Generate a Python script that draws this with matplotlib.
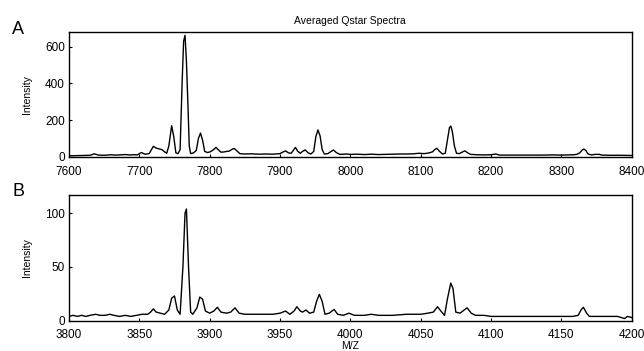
import matplotlib
matplotlib.use("Agg")
import matplotlib.pyplot as plt

plt.rcParams["font.family"] = ["Liberation Sans", "DejaVu Sans"]

# Spectrum A (high mass range), traced m/z / intensity pairs
mz_a = [7600, 7610, 7620, 7630, 7636, 7642, 7650, 7660, 7665, 7672, 7680, 7686,
        7692, 7697, 7703, 7708, 7714, 7720, 7724, 7728, 7732, 7736, 7739, 7742,
        7746, 7749, 7752, 7755, 7758, 7761, 7763, 7765, 7767, 7769, 7771, 7773,
        7777, 7781, 7784, 7787, 7790, 7793, 7797, 7801, 7805, 7809, 7812, 7816,
        7820, 7824, 7828, 7832, 7835, 7839, 7843, 7850, 7860, 7870, 7880, 7890,
        7900, 7905, 7908, 7912, 7916, 7919, 7922, 7925, 7929, 7932, 7936, 7940,
        7944, 7948, 7951, 7954, 7957, 7960, 7963, 7968, 7972, 7976, 7980, 7985,
        7995, 8000, 8010, 8020, 8030, 8040, 8050, 8060, 8070, 8080, 8090, 8097,
        8105, 8112, 8117, 8120, 8123, 8127, 8131, 8135, 8138, 8141, 8143, 8145,
        8148, 8151, 8155, 8160, 8163, 8167, 8171, 8180, 8190, 8200, 8207, 8212,
        8230, 8250, 8270, 8290, 8300, 8310, 8318, 8322, 8326, 8330, 8332, 8335,
        8338, 8343, 8348, 8354, 8358, 8370, 8385, 8400]
int_a = [6, 7, 8, 9, 17, 10, 9, 12, 10, 11, 13, 11,
         12, 11, 24, 15, 18, 58, 48, 44, 40, 28, 20, 60,
         170, 110, 22, 18, 40, 420, 630, 662, 520, 300, 60, 18,
         22, 35, 100, 130, 90, 30, 24, 28, 38, 52, 40, 26,
         27, 30, 32, 42, 46, 32, 18, 16, 17, 15, 16, 15,
         18, 28, 33, 22, 20, 36, 52, 32, 20, 30, 38, 22,
         16, 30, 110, 147, 115, 40, 16, 18, 28, 38, 24, 14,
         16, 14, 15, 13, 15, 13, 14, 15, 16, 16, 17, 20,
         18, 22, 28, 40, 47, 30, 16, 20, 90, 160, 168, 140,
         60, 20, 18, 28, 33, 22, 14, 12, 11, 12, 16, 10,
         10, 10, 10, 11, 10, 11, 12, 14, 22, 38, 43, 35,
         16, 11, 14, 14, 10, 9, 9, 8]

# Spectrum B (doubly charged range)
mz_b = [3800, 3803, 3806, 3809, 3812, 3815, 3819, 3822, 3826, 3829, 3832, 3836,
        3840, 3844, 3848, 3852, 3856, 3858, 3860, 3862, 3865, 3868, 3871, 3873,
        3875, 3877, 3879, 3881, 3882.5, 3883.5, 3885, 3886.5, 3888, 3891, 3893, 3895,
        3897, 3900, 3903, 3905.5, 3908, 3912, 3915, 3918, 3921, 3925, 3930, 3935,
        3940, 3945, 3950, 3954, 3957, 3960, 3962, 3964.5, 3966, 3968.5, 3971, 3974,
        3976, 3978, 3980, 3982, 3985, 3988.5, 3991, 3995, 3999, 4003, 4010, 4015,
        4020, 4030, 4040, 4050, 4055, 4059, 4062, 4065, 4067, 4069, 4071.4, 4073,
        4075, 4078, 4081, 4083, 4086, 4089, 4095, 4100, 4110, 4120, 4130, 4140,
        4150, 4158, 4162, 4164, 4165.7, 4168, 4170, 4180, 4190, 4195, 4197, 4200]
int_b = [4, 5, 4, 5, 4, 5, 6, 5, 5, 6, 5, 4,
         5, 4, 5, 6, 6, 8, 11, 8, 7, 6, 10, 21,
         23, 10, 6, 50, 100, 104, 50, 8, 6, 12, 22, 20,
         9, 7, 9, 12.5, 8, 7, 8, 12, 7, 6, 6, 6,
         6, 6, 7, 9, 6, 9, 13, 9, 8, 10, 7, 8,
         18, 24.5, 18, 6, 7, 10.5, 6, 5, 7, 5, 5, 6,
         5, 5, 6, 6, 7, 8, 13, 8, 5, 20, 35, 30,
         8, 7, 10, 12, 7, 5, 5, 4, 4, 4, 4, 4,
         4, 4, 5, 10, 12.5, 7, 4, 4, 4, 2, 4, 3]

fig = plt.figure(figsize=(6.44, 3.51), dpi=100)
ax_a = fig.add_axes([0.1071, 0.5513, 0.8737, 0.3575])
ax_b = fig.add_axes([0.1071, 0.0863, 0.8737, 0.3581])

ax_a.plot(mz_a, int_a, color="black", lw=1.0)
ax_a.set_xlim(7600, 8400)
ax_a.set_ylim(-3, 680)
ax_a.set_xticks(range(7600, 8401, 100))
ax_a.set_yticks([0, 200, 400, 600])
ax_a.set_ylabel("Intensity", fontsize=7.5, labelpad=9)
ax_a.set_title("Averaged Qstar Spectra", fontsize=7.5, pad=6)

ax_b.plot(mz_b, int_b, color="black", lw=1.0)
ax_b.set_xlim(3800, 4200)
ax_b.set_ylim(0, 117)
ax_b.set_xticks(range(3800, 4201, 50))
ax_b.set_yticks([0, 50, 100])
ax_b.set_ylabel("Intensity", fontsize=7.5, labelpad=9)
ax_b.set_xlabel("M/Z", fontsize=7.5, labelpad=0)

for ax in (ax_a, ax_b):
    ax.tick_params(direction="in", length=2, labelsize=8.5)
    ax.tick_params(axis="x", pad=6)
    ax.tick_params(axis="y", pad=3)
    for sp in ax.spines.values():
        sp.set_linewidth(1.0)

fig.text(0.019, 0.915, "A", fontsize=13, ha="left", va="center")
fig.text(0.020, 0.455, "B", fontsize=13, ha="left", va="center")

fig.savefig("out.png", dpi=100)
